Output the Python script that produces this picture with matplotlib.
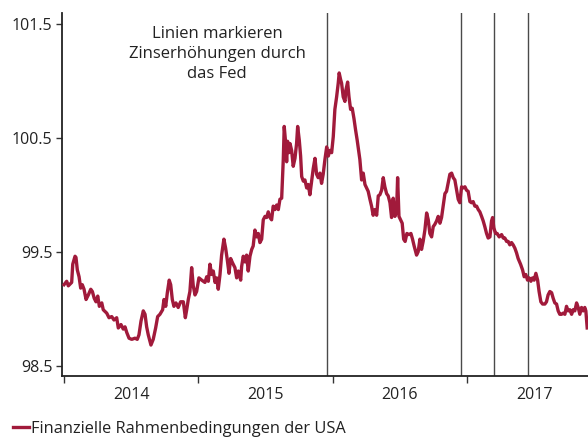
import matplotlib
matplotlib.use("Agg")
import matplotlib.pyplot as plt
from matplotlib.ticker import FixedLocator, NullFormatter, FixedFormatter

# ---- data ----
years = [
    2014.000, 2014.020, 2014.032, 2014.057, 2014.065, 2014.082, 2014.089, 2014.099, 2014.112, 2014.124,
    2014.136, 2014.149, 2014.164, 2014.181, 2014.199, 2014.211, 2014.225, 2014.238, 2014.251, 2014.263,
    2014.281, 2014.292, 2014.318, 2014.335, 2014.355, 2014.372, 2014.392, 2014.404, 2014.424, 2014.441,
    2014.454, 2014.467, 2014.484, 2014.504, 2014.528, 2014.545, 2014.558, 2014.573, 2014.590, 2014.603,
    2014.615, 2014.627, 2014.647, 2014.664, 2014.682, 2014.697, 2014.714, 2014.734, 2014.744, 2014.757,
    2014.769, 2014.783, 2014.794, 2014.806, 2014.818, 2014.833, 2014.850, 2014.868, 2014.888, 2014.903,
    2014.913, 2014.925, 2014.937, 2014.950, 2014.962, 2014.975, 2014.987, 2015.004, 2015.025, 2015.049,
    2015.062, 2015.074, 2015.086, 2015.099, 2015.111, 2015.124, 2015.136, 2015.148, 2015.161, 2015.173,
    2015.190, 2015.203, 2015.215, 2015.228, 2015.240, 2015.255, 2015.272, 2015.285, 2015.297, 2015.315,
    2015.322, 2015.334, 2015.347, 2015.359, 2015.371, 2015.384, 2015.397, 2015.408, 2015.421, 2015.434,
    2015.446, 2015.458, 2015.471, 2015.483, 2015.496, 2015.508, 2015.520, 2015.533, 2015.545, 2015.557,
    2015.570, 2015.583, 2015.595, 2015.607, 2015.620, 2015.632, 2015.639, 2015.650, 2015.657, 2015.664,
    2015.674, 2015.682, 2015.694, 2015.706, 2015.719, 2015.731, 2015.739, 2015.751, 2015.761, 2015.769,
    2015.781, 2015.793, 2015.806, 2015.818, 2015.830, 2015.843, 2015.855, 2015.868, 2015.880, 2015.892,
    2015.905, 2015.917, 2015.929, 2015.942, 2015.955, 2015.967, 2015.979, 2015.992, 2016.004, 2016.016,
    2016.029, 2016.041, 2016.048, 2016.059, 2016.066, 2016.078, 2016.091, 2016.098, 2016.111, 2016.121,
    2016.133, 2016.145, 2016.158, 2016.170, 2016.182, 2016.190, 2016.202, 2016.215, 2016.227, 2016.240,
    2016.252, 2016.264, 2016.277, 2016.289, 2016.301, 2016.314, 2016.327, 2016.339, 2016.351, 2016.364,
    2016.376, 2016.388, 2016.401, 2016.413, 2016.426, 2016.438, 2016.450, 2016.463, 2016.475, 2016.483,
    2016.493, 2016.505, 2016.517, 2016.528, 2016.539, 2016.552, 2016.567, 2016.582, 2016.594, 2016.606,
    2016.624, 2016.636, 2016.649, 2016.661, 2016.673, 2016.686, 2016.699, 2016.711, 2016.723, 2016.736,
    2016.748, 2016.760, 2016.773, 2016.785, 2016.798, 2016.810, 2016.822, 2016.835, 2016.847, 2016.859,
    2016.872, 2016.885, 2016.897, 2016.909, 2016.922, 2016.934, 2016.946, 2016.959, 2016.971, 2016.984,
    2016.996, 2017.008, 2017.021, 2017.033, 2017.045, 2017.058, 2017.071, 2017.083, 2017.095, 2017.108,
    2017.120, 2017.132, 2017.145, 2017.157, 2017.170, 2017.182, 2017.190, 2017.199, 2017.212, 2017.224,
    2017.239, 2017.257, 2017.269, 2017.281, 2017.294, 2017.306, 2017.318, 2017.331, 2017.343, 2017.356,
    2017.368, 2017.380, 2017.398, 2017.413, 2017.425, 2017.437, 2017.450, 2017.462, 2017.475, 2017.487,
    2017.499, 2017.512, 2017.525, 2017.536, 2017.549, 2017.562, 2017.579, 2017.591, 2017.603, 2017.616,
    2017.629, 2017.641, 2017.653, 2017.666, 2017.678, 2017.690, 2017.703, 2017.715, 2017.728, 2017.740,
    2017.752, 2017.765, 2017.778, 2017.789, 2017.802, 2017.815, 2017.827, 2017.839, 2017.852, 2017.864,
    2017.876, 2017.884, 2017.894,
]
fci = [
    99.21, 99.24, 99.20, 99.23, 99.39, 99.46, 99.45, 99.34, 99.28, 99.18,
    99.21, 99.17, 99.08, 99.12, 99.17, 99.15, 99.09, 99.06, 99.11, 99.02,
    99.05, 98.99, 98.96, 98.92, 98.93, 98.90, 98.92, 98.83, 98.86, 98.82,
    98.84, 98.79, 98.74, 98.73, 98.74, 98.73, 98.77, 98.89, 98.98, 98.95,
    98.84, 98.77, 98.68, 98.73, 98.83, 98.93, 98.95, 98.99, 99.08, 99.02,
    99.14, 99.25, 99.21, 99.08, 99.02, 99.05, 99.01, 99.06, 99.06, 98.92,
    98.99, 99.08, 99.15, 99.36, 99.20, 99.12, 99.15, 99.27, 99.25, 99.23,
    99.28, 99.24, 99.39, 99.30, 99.33, 99.23, 99.27, 99.17, 99.30, 99.47,
    99.61, 99.53, 99.43, 99.31, 99.44, 99.40, 99.36, 99.27, 99.33, 99.25,
    99.37, 99.46, 99.41, 99.47, 99.33, 99.46, 99.52, 99.55, 99.69, 99.63,
    99.66, 99.58, 99.61, 99.78, 99.81, 99.80, 99.85, 99.80, 99.78, 99.90,
    99.87, 99.91, 99.87, 99.96, 99.97, 100.31, 100.60, 100.45, 100.29, 100.47,
    100.37, 100.45, 100.39, 100.25, 100.32, 100.45, 100.60, 100.48, 100.34, 100.16,
    100.12, 100.13, 100.06, 100.09, 100.00, 100.12, 100.23, 100.32, 100.18, 100.15,
    100.19, 100.10, 100.18, 100.31, 100.42, 100.34, 100.39, 100.37, 100.51, 100.75,
    100.86, 100.98, 101.07, 101.01, 100.98, 100.86, 100.82, 100.92, 100.99, 100.86,
    100.75, 100.76, 100.67, 100.57, 100.48, 100.41, 100.31, 100.13, 100.19, 100.09,
    100.06, 100.03, 99.96, 99.90, 99.82, 99.87, 99.82, 99.99, 100.00, 100.04,
    100.15, 100.07, 100.01, 99.99, 99.93, 99.80, 99.97, 99.81, 99.85, 100.15,
    99.81, 99.78, 99.75, 99.61, 99.59, 99.66, 99.65, 99.66, 99.61, 99.55,
    99.47, 99.50, 99.61, 99.52, 99.59, 99.69, 99.84, 99.78, 99.66, 99.63,
    99.72, 99.74, 99.77, 99.81, 99.75, 99.80, 99.90, 100.01, 100.03, 100.10,
    100.18, 100.19, 100.15, 100.13, 100.04, 99.96, 99.93, 100.07, 100.06, 100.07,
    100.04, 100.03, 99.94, 99.93, 99.94, 99.90, 99.90, 99.87, 99.85, 99.81,
    99.77, 99.72, 99.66, 99.62, 99.63, 99.77, 99.80, 99.71, 99.66, 99.66,
    99.63, 99.65, 99.62, 99.62, 99.59, 99.59, 99.56, 99.58, 99.56, 99.53,
    99.49, 99.44, 99.39, 99.34, 99.28, 99.30, 99.25, 99.27, 99.24, 99.27,
    99.25, 99.31, 99.25, 99.15, 99.06, 99.04, 99.04, 99.06, 99.12, 99.15,
    99.14, 99.09, 99.05, 99.04, 98.98, 98.95, 98.95, 98.96, 98.95, 99.02,
    98.98, 98.99, 98.95, 98.99, 98.98, 99.05, 99.01, 98.95, 99.01, 98.98,
    99.01, 98.98, 98.83,
]
hike_dates = [2015.955, 2016.953, 2017.203, 2017.453]
year_labels = ["2014", "2015", "2016", "2017"]
y_ticks = [98.5, 99.5, 100.5, 101.5]
series_label = "Finanzielle Rahmenbedingungen der USA"
note = "Linien markieren\nZinserhöhungen durch\ndas Fed"

FONT = "Open Sans"
RED = "#A11A3B"
FS = 11.5

fig = plt.figure(figsize=(5.88, 4.37), dpi=100)
ax = fig.add_axes([62 / 588, 1 - 376 / 437, 1 - 62 / 588, (376 - 12.5) / 437])

for d in hike_dates:
    ax.axvline(d, color="#4a4a4a", lw=1.0, zorder=1)

ax.plot(years, fci, color=RED, lw=2.4, zorder=3, label=series_label,
        solid_joinstyle="round")

ax.set_xlim(2013.985, 2017.9)
ax.set_ylim(98.408, 101.601)

ax.set_yticks(y_ticks)
ax.set_yticklabels([f"{v:.1f}" for v in y_ticks])

major = [2014, 2015, 2016, 2017]
ax.xaxis.set_major_locator(FixedLocator(major))
ax.xaxis.set_major_formatter(NullFormatter())
ax.xaxis.set_minor_locator(FixedLocator([y + 0.5 for y in major]))
ax.xaxis.set_minor_formatter(FixedFormatter(year_labels))

ax.tick_params(axis="x", which="major", length=5, width=1.0, color="#333333", direction="out")
ax.tick_params(axis="x", which="minor", length=0, pad=8, labelsize=FS, labelcolor="#222222")
ax.tick_params(axis="y", which="major", length=4, width=1.0, color="#333333", pad=3,
               labelsize=FS, labelcolor="#222222")
for lab in ax.get_xticklabels(minor=True) + ax.get_yticklabels():
    lab.set_fontfamily(FONT)

for s in ["top", "right"]:
    ax.spines[s].set_visible(False)
for s in ["left", "bottom"]:
    ax.spines[s].set_color("#222222")
    ax.spines[s].set_linewidth(1.3)

ax.text(0.2947, 0.886, note, transform=ax.transAxes, ha="center", va="center",
        multialignment="center", fontsize=FS + 0.5, family=FONT, color="#222222",
        linespacing=1.32)

leg = fig.legend(handles=ax.get_lines()[-1:], loc="center left",
                 bbox_to_anchor=(13 / 588, 1 - 429 / 437), frameon=False,
                 handlelength=0.95, handletextpad=0.15, borderpad=0.0,
                 borderaxespad=0.0,
                 prop={"family": FONT, "size": 11.75})
for t in leg.get_texts():
    t.set_color("#222222")

fig.savefig("out.png", dpi=100)
